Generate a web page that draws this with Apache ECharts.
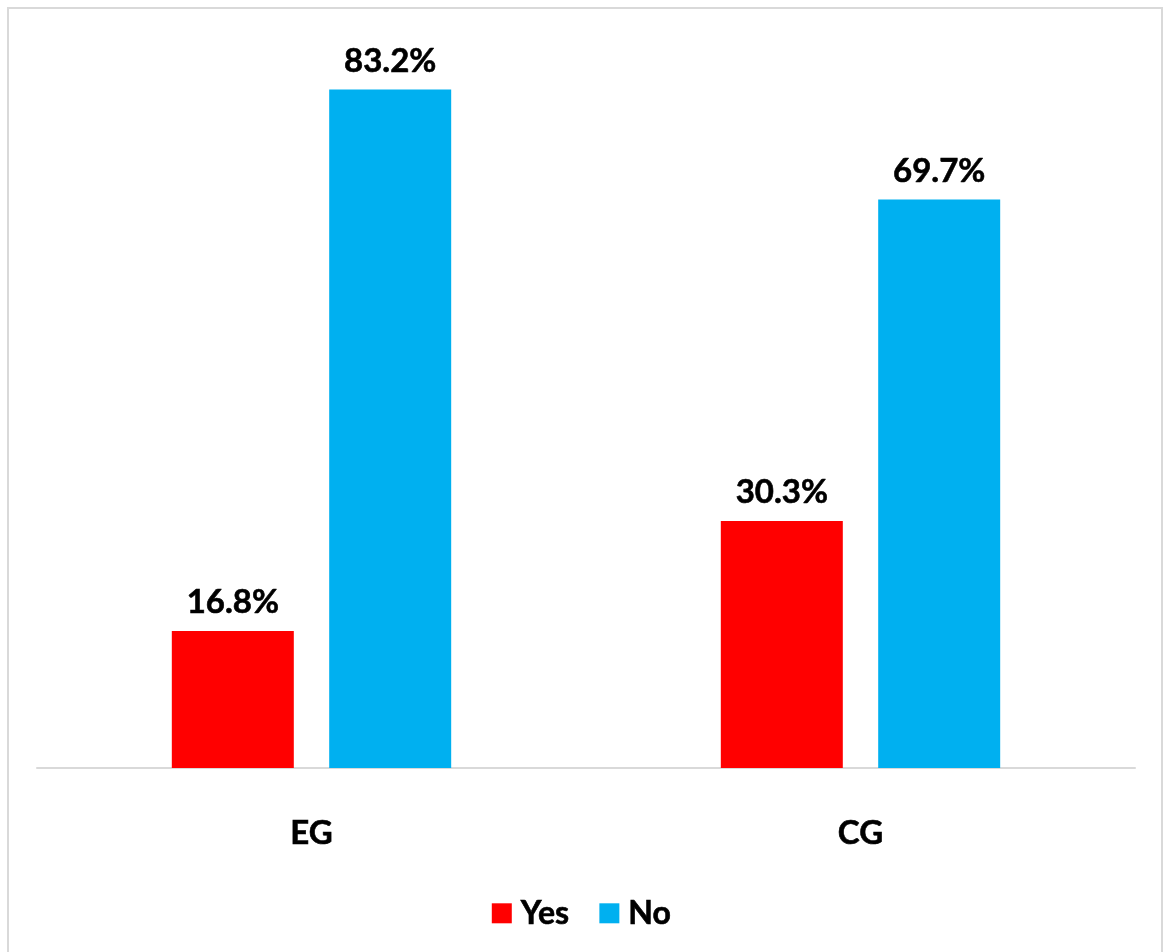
<!DOCTYPE html>
<html>
<head>
<meta charset="utf-8">
<script src="https://cdn.jsdelivr.net/npm/echarts@6/dist/echarts.min.js"></script>
<style>
  html, body { margin: 0; padding: 0; background: #fff; }
  #chart { width: 1163px; height: 952px; }
</style>
</head>
<body>
<div id="chart"></div>
<script>
// Groups and percentages
const categories = ['EG', 'CG'];
const yesValues = [16.8, 30.3];
const noValues = [83.2, 69.7];
const seriesNames = ['Yes', 'No'];

const FONT = 'Lato, "Open Sans", sans-serif';

const chart = echarts.init(document.getElementById('chart'), null, { renderer: 'canvas' });

const labelStyle = {
  show: true,
  position: 'top',
  distance: 12,
  formatter: p => p.value.toFixed(1) + '%',
  fontFamily: FONT,
  fontWeight: 'bold',
  fontSize: 33,
  color: '#000',
  textBorderColor: '#000',
  textBorderWidth: 0.6
};

chart.setOption({
  backgroundColor: '#fff',
  animation: false,
  graphic: [{
    type: 'rect',
    shape: { x: 8, y: 8, width: 1154, height: 960 },
    style: { fill: 'none', stroke: '#d9d9d9', lineWidth: 2 },
    silent: true
  }],
  legend: {
    data: seriesNames,
    top: 892,
    left: 'center',
    itemWidth: 20,
    itemHeight: 20,
    itemGap: 30,
    icon: 'rect',
    textStyle: {
      fontFamily: FONT, fontWeight: 'bold', fontSize: 32, color: '#000',
      textBorderColor: '#000', textBorderWidth: 0.6,
      padding: [0, 0, 0, 4]
    }
  },
  grid: { left: 37, right: 28, top: 34, bottom: 184, containLabel: false },
  xAxis: {
    type: 'category',
    data: categories,
    axisLine: { show: true, lineStyle: { color: '#d9d9d9', width: 2 } },
    axisTick: { show: false },
    axisLabel: {
      margin: 49, fontFamily: FONT, fontWeight: 'bold', fontSize: 33, color: '#000',
      textBorderColor: '#000', textBorderWidth: 0.6
    }
  },
  yAxis: {
    type: 'value',
    min: 0,
    max: 90,
    show: false,
    splitLine: { show: false }
  },
  series: [
    {
      name: seriesNames[0],
      type: 'bar',
      data: yesValues,
      itemStyle: { color: '#ff0000' },
      barWidth: 122,
      barGap: '29%',
      label: labelStyle
    },
    {
      name: seriesNames[1],
      type: 'bar',
      data: noValues,
      itemStyle: { color: '#00b0f0' },
      barWidth: 122,
      label: labelStyle
    }
  ]
});
</script>
</body>
</html>
